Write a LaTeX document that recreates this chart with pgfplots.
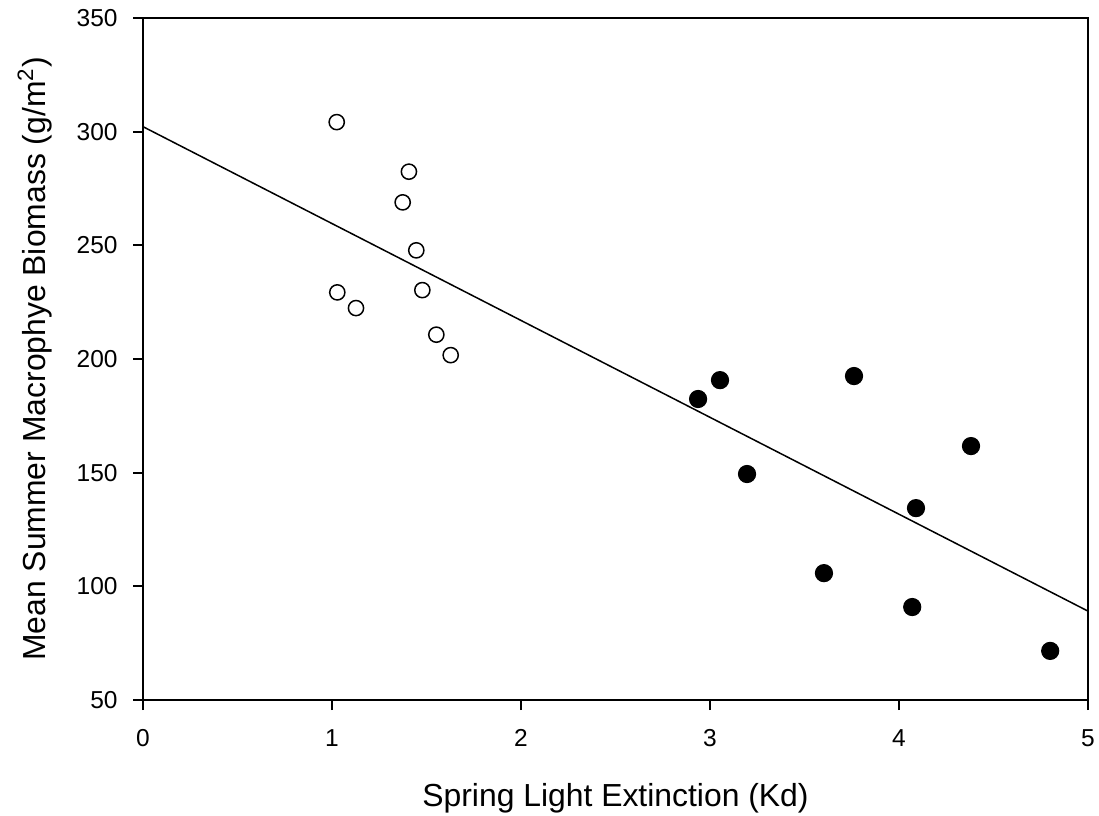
\documentclass[border=0pt]{standalone}
\usepackage{pgfplots}
\pgfplotsset{compat=1.18}
\usepackage{fontspec}
\setmainfont{Liberation Sans}
\begin{document}
\begin{tikzpicture}
\path[use as bounding box] (0bp,0bp) rectangle (549.5bp,408bp);
\begin{axis}[
  at={(71.5bp,58bp)}, anchor=south west,
  scale only axis, width=472.5bp, height=341bp,
  xmin=0, xmax=5, ymin=50, ymax=350,
  xtick={0,1,2,3,4,5}, ytick={50,100,150,200,250,300,350},
  tick align=outside, tick pos=left,
  major tick length=5bp,
  axis line style={line width=1bp},
  every tick/.style={line width=1bp, black},
  /pgf/number format/assume math mode=true,
  every tick label/.append style={font=\fontsize{12.3}{15}\selectfont},
  xticklabel={\fontsize{12.3}{15}\selectfont\pgfmathprintnumber{\tick}},
  yticklabel={\fontsize{12.3}{15}\selectfont\pgfmathprintnumber{\tick}},
  xticklabel style={anchor=base, inner sep=0pt, yshift=-18.3bp},
  yticklabel style={anchor=east, inner sep=0pt, xshift=-7.5bp},
  label style={font=\fontsize{16}{20}\selectfont},
  xlabel={Spring Light Extinction (Kd)},
  ylabel={Mean Summer Macrophye Biomass (g/m\textsuperscript{2})},
  xlabel style={at={(axis description cs:0.5,0)}, anchor=base, yshift=-53bp},
  ylabel style={at={(axis description cs:-0.1031,0.5)}, anchor=base},
  clip=false,
]
\addplot[black, line width=0.75bp] coordinates {(0,302.2) (5,89.1)};
\addplot[only marks, mark=*, mark size=3.8bp, mark options={draw=black, fill=white, line width=0.75bp}] coordinates {
(1.025,304.2) (1.407,282.4) (1.374,268.9) (1.446,247.8) (1.028,229.3)
(1.478,230.3) (1.127,222.4) (1.552,210.7) (1.628,201.7)};
\addplot[only marks, mark=*, mark size=4.3bp, mark options={draw=black, fill=black, line width=0.5bp}] coordinates {
(2.937,182.4) (3.053,190.7) (3.196,149.4) (3.603,105.8) (3.762,192.5)
(4.09,134.4) (4.07,90.9) (4.381,161.7) (4.80,71.6)};
\end{axis}
\end{tikzpicture}
\end{document}
